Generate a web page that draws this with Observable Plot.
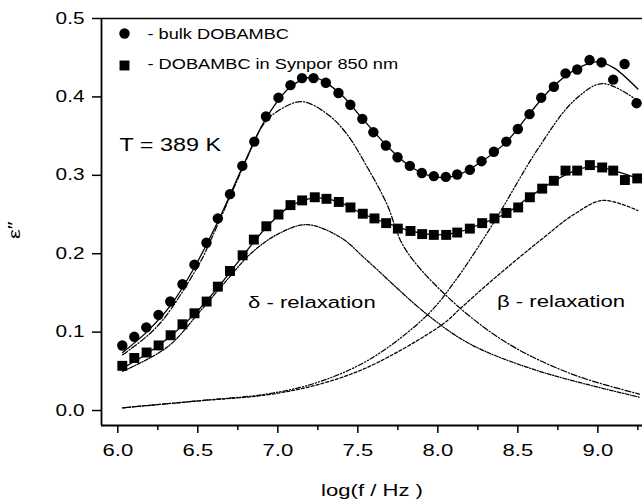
<!DOCTYPE html>
<html><head><meta charset="utf-8">
<script src="https://cdn.jsdelivr.net/npm/d3@7"></script>
<script src="https://cdn.jsdelivr.net/npm/@observablehq/plot@0.6"></script>
<style>
body{margin:0;background:#fff}
svg{font-family:"Liberation Sans",Arial,Helvetica,sans-serif}
</style>
</head><body><div id="chart"></div>
<script>
// ---- data ----
const bulkLogF = [6.028,6.103,6.178,6.254,6.328,6.404,6.479,6.554,6.625,6.701,6.778,6.853,6.926,7.004,7.079,7.151,7.223,7.300,7.379,7.453,7.528,7.597,7.675,7.748,7.825,7.900,7.975,8.050,8.121,8.200,8.273,8.350,8.428,8.500,8.573,8.646,8.725,8.798,8.871,8.948,9.023,9.096,9.167,9.242];
const bulkEps  = [0.083,0.094,0.106,0.122,0.139,0.161,0.186,0.214,0.245,0.276,0.312,0.343,0.375,0.399,0.415,0.424,0.424,0.418,0.405,0.390,0.372,0.355,0.338,0.323,0.312,0.303,0.299,0.298,0.301,0.307,0.318,0.330,0.343,0.359,0.378,0.399,0.413,0.430,0.435,0.447,0.444,0.422,0.442,0.392];

const synLogF = [6.028,6.103,6.180,6.255,6.330,6.404,6.479,6.555,6.625,6.701,6.780,6.850,6.928,7.004,7.079,7.152,7.231,7.304,7.381,7.454,7.531,7.604,7.677,7.750,7.829,7.902,7.975,8.052,8.121,8.200,8.277,8.354,8.429,8.502,8.575,8.652,8.725,8.798,8.871,8.950,9.027,9.096,9.169,9.246];
const synEps  = [0.057,0.067,0.074,0.083,0.096,0.110,0.124,0.139,0.158,0.178,0.198,0.218,0.235,0.250,0.262,0.268,0.272,0.270,0.266,0.259,0.251,0.245,0.239,0.232,0.229,0.225,0.224,0.224,0.227,0.232,0.239,0.245,0.252,0.259,0.272,0.283,0.293,0.306,0.306,0.313,0.310,0.306,0.294,0.296];

// fitted total curves
const bulkFitX = [6.03,6.18,6.33,6.48,6.63,6.78,6.93,7.08,7.22,7.38,7.53,7.68,7.83,7.98,8.12,8.27,8.43,8.57,8.72,8.87,9.00,9.10,9.25];
const bulkFitY = [0.074,0.100,0.134,0.183,0.243,0.311,0.374,0.413,0.425,0.406,0.372,0.338,0.311,0.298,0.300,0.317,0.343,0.378,0.413,0.436,0.445,0.437,0.410];
const synFitX  = [6.03,6.18,6.33,6.48,6.63,6.78,6.93,7.08,7.23,7.38,7.53,7.68,7.83,7.98,8.12,8.27,8.43,8.57,8.72,8.87,8.98,9.10,9.25];
const synFitY  = [0.054,0.072,0.095,0.123,0.158,0.197,0.234,0.261,0.271,0.266,0.251,0.239,0.229,0.224,0.227,0.238,0.252,0.272,0.292,0.307,0.311,0.306,0.296];

// delta-relaxation components
const bulkDeltaX = [6.03,6.20,6.31,6.52,6.56,6.70,6.81,6.91,7.00,7.15,7.31,7.43,7.56,7.68,7.79,8.04,8.41,8.83,9.26];
const bulkDeltaY = [0.071,0.098,0.123,0.191,0.208,0.272,0.323,0.365,0.382,0.394,0.378,0.353,0.310,0.264,0.208,0.149,0.089,0.047,0.021];
const synDeltaX  = [6.03,6.31,6.52,6.68,6.83,7.00,7.18,7.39,7.56,7.93,8.20,8.62,9.26];
const synDeltaY  = [0.050,0.081,0.128,0.166,0.200,0.225,0.237,0.221,0.191,0.123,0.085,0.051,0.017];

// beta-relaxation components
const bulkBetaX = [6.03,6.52,6.93,7.25,7.58,7.93,8.10,8.35,8.62,8.85,9.03,9.25];
const bulkBetaY = [0.0035,0.0128,0.021,0.036,0.066,0.121,0.163,0.240,0.332,0.395,0.417,0.395];
const synBetaX  = [6.03,6.52,6.93,7.25,7.57,8.03,8.14,8.35,8.64,8.85,9.03,9.25];
const synBetaY  = [0.0035,0.0125,0.020,0.033,0.056,0.110,0.130,0.168,0.217,0.250,0.268,0.255];

// axes
const xDomain = [5.898, 9.279];
const yDomain = [-0.0191, 0.5];
const xMajor = [6.0,6.5,7.0,7.5,8.0,8.5,9.0];
const xMinor = [6.25,6.75,7.25,7.75,8.25,8.75,9.25];
const yMajor = [0.0,0.1,0.2,0.3,0.4,0.5];

const legendLabels = ["- bulk DOBAMBC", "- DOBAMBC in Synpor 850 nm"];
const tempLabel = "T = 389 K";
const deltaLabel = "δ - relaxation";
const betaLabel = "β - relaxation";

// ---- build tables ----
const pts = (xs, ys) => xs.map((x, i) => ({x, y: ys[i]}));
const bulk = pts(bulkLogF, bulkEps);
const syn = pts(synLogF, synEps);

const lineStyle = (dash, w = 1.25) => ({x: "x", y: "y", stroke: "black", strokeWidth: w, strokeDasharray: dash, curve: "catmull-rom"});

const chart = Plot.plot({
  width: 642, height: 504,
  marginLeft: 101, marginRight: 0, marginTop: 18, marginBottom: 79,
  x: {domain: xDomain},
  y: {domain: yDomain},
  style: {background: "white", color: "black", fontFamily: "'Liberation Sans', Arial, sans-serif", overflow: "visible"},
  marks: [
    Plot.axisX({ticks: xMajor, tickSize: 8, tickPadding: 10, tickFormat: d3.format(".1f"), fontSize: 17, label: null, strokeWidth: 1.5}),
    Plot.axisX({ticks: xMinor, tickSize: 5, tickFormat: () => "", label: null, strokeWidth: 1.5}),
    Plot.axisY({ticks: yMajor, tickSize: 9, tickPadding: 8, tickFormat: d3.format(".1f"), fontSize: 16, label: null, strokeWidth: 1.5}),
    Plot.ruleY([yDomain[0]], {strokeWidth: 1.8}),
    Plot.ruleY([yDomain[1]], {strokeWidth: 1.5}),
    Plot.ruleX([xDomain[0]], {strokeWidth: 1.8}),
    Plot.line(pts(bulkBetaX, bulkBetaY), lineStyle("5,2,1.2,2,1.2,2")),
    Plot.line(pts(synBetaX, synBetaY), lineStyle("3,2")),
    Plot.line(pts(bulkDeltaX, bulkDeltaY), lineStyle("6,2,1.2,2")),
    Plot.line(pts(synDeltaX, synDeltaY), lineStyle("4,1.5,1,1.5")),
    Plot.line(pts(bulkFitX, bulkFitY), lineStyle(null, 1.3)),
    Plot.line(pts(synFitX, synFitY), lineStyle(null, 1.3)),
    Plot.dot(bulk, {x: "x", y: "y", r: 5.2, fill: "black", symbol: "circle"}),
    Plot.dot(syn, {x: "x", y: "y", r: 5.6, fill: "black", symbol: "square"}),
    // legend
    Plot.dot([legendLabels[0]], {frameAnchor: "top-left", dx: 23, dy: 15, r: 5.2, fill: "black", symbol: "circle"}),
    Plot.dot([legendLabels[1]], {frameAnchor: "top-left", dx: 23, dy: 47, r: 5.6, fill: "black", symbol: "square"}),
    Plot.text([legendLabels[0]], {frameAnchor: "top-left", dx: 46, dy: 16, text: d => d, textAnchor: "start", lineAnchor: "middle", fontSize: 14}),
    Plot.text([legendLabels[1]], {frameAnchor: "top-left", dx: 46, dy: 46.5, text: d => d, textAnchor: "start", lineAnchor: "middle", fontSize: 14}),
    Plot.text([tempLabel], {frameAnchor: "top-left", dx: 18, dy: 127, text: d => d, textAnchor: "start", lineAnchor: "middle", fontSize: 18}),
    Plot.text([deltaLabel], {frameAnchor: "top-left", dx: 146.5, dy: 284, text: d => d, textAnchor: "start", lineAnchor: "middle", fontSize: 17}),
    Plot.text([betaLabel], {frameAnchor: "top-left", dx: 395.5, dy: 283, text: d => d, textAnchor: "start", lineAnchor: "middle", fontSize: 17}),
    // axis titles
    Plot.text(["log(f / Hz )"], {frameAnchor: "bottom", dy: 65, text: d => d, fontSize: 17, lineAnchor: "middle"}),
    Plot.text(["ε\u2033"], {frameAnchor: "left", dx: -87, dy: 17, text: d => d, fontSize: 17, rotate: -90, lineAnchor: "middle"})
  ]
});

document.getElementById("chart").append(chart);

// horizontally stretch every text as in the reference scan (scale about its anchor point)
const STRETCH = 1.3;
chart.querySelectorAll("text").forEach(t => {
  if (!t.textContent) return;
  const x = parseFloat(t.getAttribute("x")) || 0;
  const prev = t.getAttribute("transform") || "";
  t.setAttribute("transform", `${prev} translate(${x},0) scale(${STRETCH},1) translate(${-x},0)`.trim());
});
</script>
</body></html>
